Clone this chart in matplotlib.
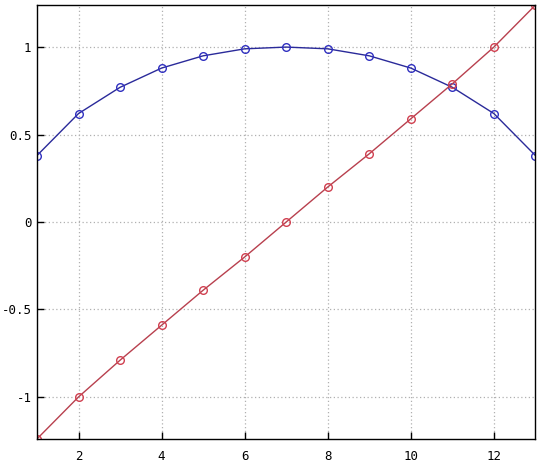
import matplotlib
matplotlib.use("Agg")
import matplotlib.pyplot as plt
import numpy as np

# values
x = np.arange(1, 14)
blue = [0.38, 0.62, 0.77, 0.88, 0.95, 0.99, 1.0, 0.99, 0.95, 0.88, 0.77, 0.62, 0.38]
red = [-1.24, -1.0, -0.79, -0.59, -0.39, -0.20, 0.0, 0.20, 0.39, 0.59, 0.79, 1.0, 1.24]
xticks = [2, 4, 6, 8, 10, 12]
yticks = [-1, -0.5, 0, 0.5, 1]
yticklabels = ["-1", "-0.5", "0", "0.5", "1"]

fig = plt.figure(figsize=(5.4, 4.63), dpi=100)
ax = fig.add_axes([0.0685, 0.052, 0.923, 0.937])

ax.plot(x, blue, color="#2a2a9a", lw=1.0, marker="o", ms=5.5,
        mfc="none", mec="#3030c0", mew=1.0)
ax.plot(x, red, color="#b8404e", lw=1.0, marker="o", ms=5.5,
        mfc="none", mec="#d04050", mew=1.0)

ax.set_xlim(1, 13)
ax.set_ylim(-1.24, 1.24)
ax.set_xticks(xticks)
ax.set_yticks(yticks)
ax.set_yticklabels(yticklabels)
ax.tick_params(direction="in", length=5, width=1, labelsize=9,
               top=False, right=False)
ax.tick_params(axis="x", pad=8)
ax.tick_params(axis="y", pad=4)
for lab in ax.get_xticklabels() + ax.get_yticklabels():
    lab.set_family("DejaVu Sans Mono")
ax.grid(True, color="#b0b0b0", linestyle=(0, (1, 2)), lw=0.9)
for s in ax.spines.values():
    s.set_linewidth(1.0)

fig.savefig("out.png", dpi=100)
